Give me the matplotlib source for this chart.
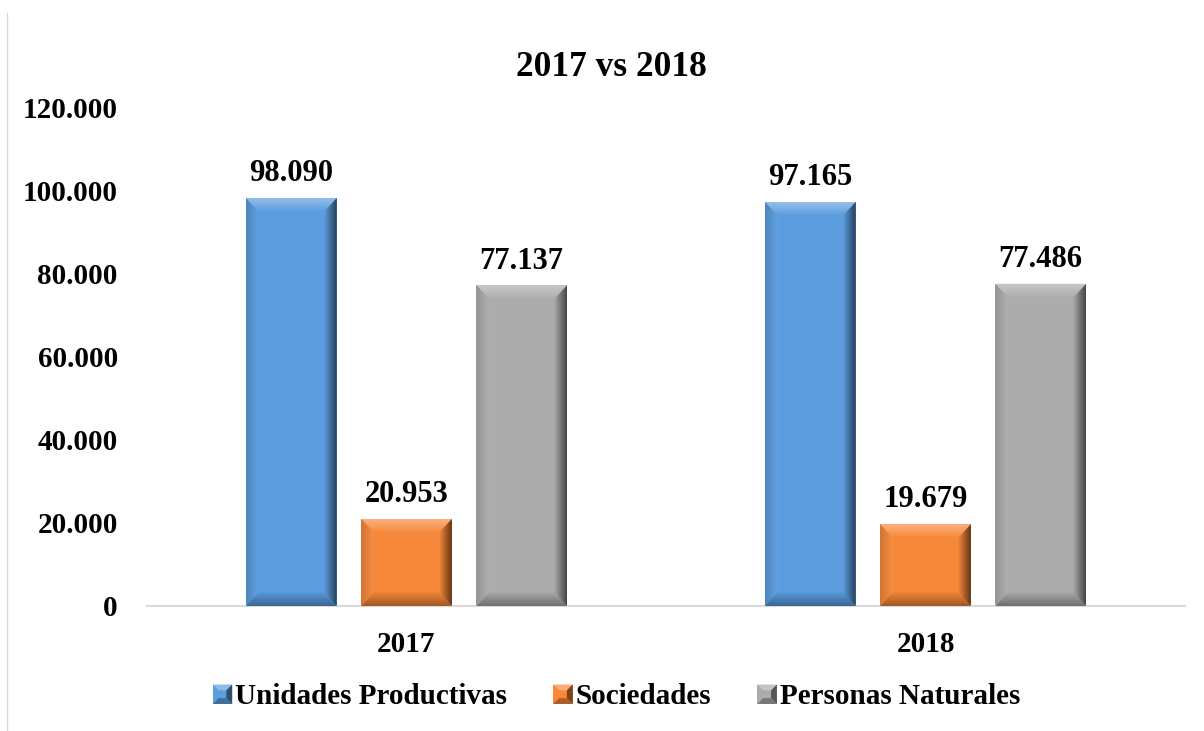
import matplotlib
matplotlib.use("Agg")
import matplotlib.pyplot as plt
import numpy as np
from matplotlib.patches import Polygon, Rectangle
from matplotlib.colors import to_rgb
from matplotlib.legend_handler import HandlerBase

categories = ["2017", "2018"]
series_names = ["Unidades Productivas", "Sociedades", "Personas Naturales"]
unidades = [98090, 97165]
sociedades = [20953, 19679]
personas = [77137, 77486]
series_values = [unidades, sociedades, personas]
colors = ["#5b9ddf", "#f7883a", "#acacac"]

plt.rcParams["font.family"] = ["Liberation Serif", "DejaVu Serif"]
plt.rcParams["font.weight"] = "bold"


def fmt(v):
    return "0" if v == 0 else f"{v:,}".replace(",", ".")


def shade(c, f):
    c = np.array(to_rgb(c))
    if f >= 0:
        return c + (1 - c) * f
    return c * (1 + f)


def gradient(ax, poly_pts, extent, c0, c1, horizontal, z):
    poly = Polygon(poly_pts, closed=True, facecolor="none", edgecolor="none")
    ax.add_patch(poly)
    t = np.linspace(0, 1, 64)
    cols = np.array([shade(c0, 0) * (1 - s) + shade(c1, 0) * s for s in t])
    img = cols[np.newaxis, :, :] if horizontal else cols[:, np.newaxis, :]
    im = ax.imshow(img, extent=extent, aspect="auto", origin="lower",
                   zorder=z, interpolation="bilinear")
    im.set_clip_path(poly)


def bevel_bar(ax, x0, w, h, color, px_x, px_y):
    bx = 13 * px_x
    by = 14 * px_y
    x1 = x0 + w
    base = shade(color, 0)
    ax.add_patch(Rectangle((x0, 0), w, h, facecolor=base, edgecolor="none", zorder=2))
    # top band
    gradient(ax, [(x0, h), (x1, h), (x1 - bx, h - by), (x0 + bx, h - by)],
             (x0, x1, h - by, h), base, shade(color, 0.35), False, 3)
    # bottom band
    gradient(ax, [(x0, 0), (x1, 0), (x1 - bx, by), (x0 + bx, by)],
             (x0, x1, 0, by), shade(color, -0.35), base, False, 3)
    # left band
    gradient(ax, [(x0, 0), (x0, h), (x0 + bx, h - by), (x0 + bx, by)],
             (x0, x0 + bx, 0, h), shade(color, -0.15), shade(color, 0.05), True, 3)
    # right band
    gradient(ax, [(x1, 0), (x1, h), (x1 - bx, h - by), (x1 - bx, by)],
             (x1 - bx, x1, 0, h), base, shade(color, -0.6), True, 3)


class BevelHandler(HandlerBase):
    def create_artists(self, legend, orig_handle, xdescent, ydescent, width,
                       height, fontsize, trans):
        c = orig_handle.get_facecolor()
        s = height * 1.0
        x0 = width - s
        y0 = -ydescent + (height - s) / 2
        d = s * 0.3
        arts = [Rectangle((x0, y0), s, s, facecolor=c, edgecolor="none", transform=trans),
                Polygon([(x0, y0 + s), (x0 + s, y0 + s), (x0 + s - d, y0 + s - d), (x0 + d, y0 + s - d)],
                        facecolor=shade(c[:3], 0.3), edgecolor="none", transform=trans),
                Polygon([(x0 + s, y0), (x0 + s, y0 + s), (x0 + s - d, y0 + s - d), (x0 + s - d, y0 + d)],
                        facecolor=shade(c[:3], -0.5), edgecolor="none", transform=trans),
                Polygon([(x0, y0), (x0 + s, y0), (x0 + s - d, y0 + d), (x0 + d, y0 + d)],
                        facecolor=shade(c[:3], -0.3), edgecolor="none", transform=trans)]
        return arts


fig = plt.figure(figsize=(12.04, 7.31), dpi=100)
ax = fig.add_axes([147 / 1204, 1 - 606 / 731, 1038 / 1204, (606 - 107) / 731])
ax.set_xlim(-0.5, 1.5)
ax.set_ylim(0, 120000)

ax_w_px = 1038
ax_h_px = 606 - 107
px_x = 2.0 / ax_w_px
px_y = 120000 / ax_h_px

x = np.arange(len(categories))
spacing = 0.222
width = 0.175
for i, (vals, c) in enumerate(zip(series_values, colors)):
    for j, v in enumerate(vals):
        xc = x[j] + (i - 1) * spacing
        bevel_bar(ax, xc - width / 2, width, v, c, px_x, px_y)
        ax.annotate(fmt(v), (xc, v), xytext=(0, 7), textcoords="offset points",
                    ha="center", va="bottom", fontsize=22, fontweight="bold")

ax.set_xlim(-0.5, 1.5)
ax.set_ylim(0, 120000)
ax.set_yticks(np.arange(0, 120001, 20000))
ax.set_yticklabels([fmt(v) for v in np.arange(0, 120001, 20000)])
ax.set_xticks(x)
ax.set_xticklabels(categories)
ax.tick_params(axis="y", length=0, pad=21, labelsize=21)
ax.tick_params(axis="x", length=0, pad=18, labelsize=21)
for s in ["top", "right", "left"]:
    ax.spines[s].set_visible(False)
ax.spines["bottom"].set_color("#d9d9d9")
ax.spines["bottom"].set_linewidth(1.5)

fig.text(611 / 1204, 1 - 68 / 731, "2017 vs 2018", ha="center", va="center",
         fontsize=25.5, fontweight="bold")

handles = [Rectangle((0, 0), 1, 1, facecolor=c) for c in colors]
fig.legend(handles, series_names, handler_map={Rectangle: BevelHandler()},
           loc="center", bbox_to_anchor=(616 / 1204, 1 - 697 / 731), ncol=3,
           frameon=False, fontsize=21, handlelength=0.7, handleheight=0.65,
           handletextpad=0.1, columnspacing=1.55)

# left border of the chart area
fig.add_artist(plt.Line2D([7 / 1204, 7 / 1204], [0, 1 - 13 / 731], color="#d9d9d9",
                          linewidth=1, transform=fig.transFigure))

fig.savefig("out.png", dpi=100)
